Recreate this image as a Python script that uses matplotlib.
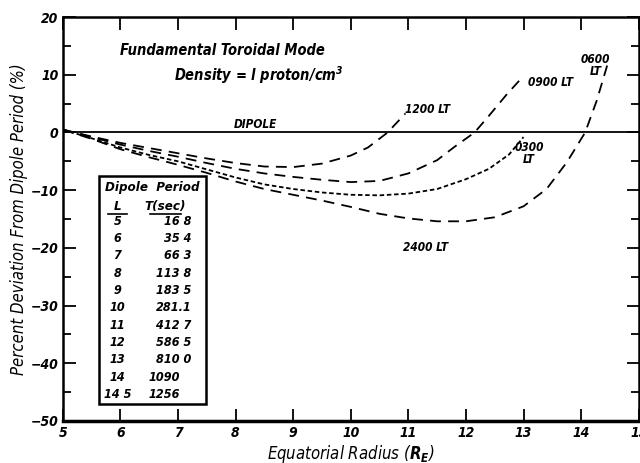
import matplotlib
matplotlib.use("Agg")
import matplotlib.pyplot as plt
from matplotlib.patches import Rectangle

plt.rcParams['font.family'] = ['DejaVu Sans']
plt.rcParams['font.stretch'] = 'condensed'
plt.rcParams['font.style'] = 'italic'
plt.rcParams['font.weight'] = 'bold'
plt.rcParams['mathtext.fontset'] = 'dejavusans'

# curves (x = equatorial radius, y = % deviation)
x_1200 = [5, 5.5, 6, 6.5, 7, 7.5, 8, 8.5, 9, 9.5, 10, 10.3, 10.64, 10.95]
y_1200 = [0.5, -0.7, -1.8, -2.7, -3.6, -4.5, -5.3, -5.9, -6.0, -5.4, -4.0, -2.6, 0, 3.3]

x_0900 = [5, 5.5, 6, 6.5, 7, 7.5, 8, 8.5, 9, 9.5, 10, 10.5, 11, 11.5, 11.8, 12.15, 12.4, 12.7, 13.0]
y_0900 = [0.5, -0.8, -2.1, -3.2, -4.2, -5.3, -6.3, -7.1, -7.7, -8.2, -8.6, -8.4, -7.1, -4.8, -2.5, 0, 2.9, 6.5, 9.8]

x_0300 = [5, 5.5, 6, 6.5, 7, 7.5, 8, 8.5, 9, 9.5, 10, 10.5, 11, 11.5, 12, 12.4, 12.75, 13.0]
y_0300 = [0.5, -1.0, -2.6, -3.9, -5.0, -6.4, -7.8, -9.0, -9.8, -10.4, -10.8, -10.9, -10.6, -9.8, -8.1, -6.3, -3.8, -0.8]

x_2400 = [5, 5.5, 6, 6.5, 7, 7.5, 8, 8.5, 9, 9.5, 10, 10.5, 11, 11.5, 12, 12.5, 13, 13.4, 13.75, 14.07, 14.27, 14.47]
y_2400 = [0.5, -1.1, -2.9, -4.3, -5.6, -7.0, -8.5, -9.8, -10.8, -11.8, -12.9, -14.1, -14.9, -15.4, -15.4, -14.7, -12.8, -9.8, -5.2, 0, 5.5, 12.2]

# dipole period table
L_vals = ['5', '6', '7', '8', '9', '10', '11', '12', '13', '14', '14 5']
T_vals = ['16 8', '35 4', '66 3', '113 8', '183 5', '281.1', '412 7', '586 5', '810 0', '1090', '1256']

fig = plt.figure(figsize=(6.4, 4.63), dpi=100)
ax = fig.add_axes([0.098, 0.091, 0.9, 0.872])

ax.axhline(0, color='black', lw=1.3)
ax.plot(x_1200, y_1200, color='black', lw=1.3, dashes=(6, 4))
ax.plot(x_0900, y_0900, color='black', lw=1.3, dashes=(6, 4))
ax.plot(x_0300, y_0300, color='black', lw=1.3, dashes=(2.5, 1.5))
ax.plot(x_2400, y_2400, color='black', lw=1.3, dashes=(6, 4))

ax.set_xlim(5, 15)
ax.set_ylim(-50, 20)
ax.set_xticks(range(5, 16))
ax.set_yticks(range(-50, 21, 10))
ax.set_yticks(range(-45, 20, 10), minor=True)
ax.tick_params(axis='both', which='both', direction='in', top=True, right=True,
               width=1.3, labelsize=10)
ax.tick_params(axis='both', which='major', length=9)
ax.tick_params(axis='both', which='minor', length=6)
ax.tick_params(axis='y', pad=3)
for s in ax.spines.values():
    s.set_linewidth(1.8)
ax.spines['bottom'].set_linewidth(2.5)

ax.set_xlabel(r'Equatorial Radius ($\mathbfit{R}_{\mathbfit{E}}$)', fontsize=12, labelpad=2)
ax.set_ylabel('Percent Deviation From Dipole Period (%)', fontsize=12, labelpad=2)

ax.text(5.99, 14.3, 'Fundamental Toroidal Mode', fontsize=10.5, va='center')
ax.text(6.94, 9.9, r'Density = l proton/cm$^{\mathbfit{3}}$', fontsize=10.5, va='center')

ax.text(8.35, 0.8, 'DIPOLE', fontsize=8.5, ha='center')
ax.text(10.95, 3.3, '1200 LT', fontsize=8.5)
ax.text(13.07, 8.0, '0900 LT', fontsize=8.5)
ax.text(13.1, -5.3, '0300\nLT', fontsize=8.5, ha='center', linespacing=0.9)
ax.text(14.25, 10.0, '0600\nLT', fontsize=8.5, ha='center', linespacing=0.9)
ax.text(11.3, -20.5, '2400 LT', fontsize=8.5, ha='center')

# table box
ax.add_patch(Rectangle((5.625, -47.1), 1.855, 39.55, fill=False, lw=1.8,
                       edgecolor='black', zorder=3))
ax.text(6.55, -9.5, 'Dipole  Period', fontsize=9.5, ha='center', va='center')
ax.text(5.95, -12.9, 'L', fontsize=9.5, ha='center', va='center')
ax.text(6.78, -12.9, 'T(sec)', fontsize=9.5, ha='center', va='center')
ax.plot([5.78, 6.12], [-14.1, -14.1], color='black', lw=1.2)
ax.plot([6.52, 7.06], [-14.1, -14.1], color='black', lw=1.2)
for i, (l, t) in enumerate(zip(L_vals, T_vals)):
    yy = -15.4 - 3.0 * i
    ax.text(5.95, yy, l, fontsize=9, ha='center', va='center')
    if '.' in t or ' ' in t:
        ax.text(7.24, yy, t, fontsize=9, ha='right', va='center')
    else:
        ax.text(7.03, yy, t, fontsize=9, ha='right', va='center')

fig.savefig('out.png', dpi=100)
